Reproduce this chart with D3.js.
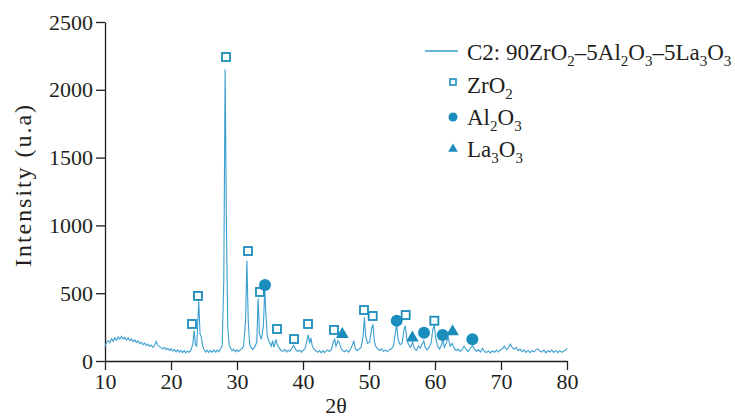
<!DOCTYPE html>
<html><head><meta charset="utf-8">
<script src="https://cdn.jsdelivr.net/npm/d3@7"></script>
<style>
html,body{margin:0;padding:0;background:#fff;}
svg{display:block;font-family:"Liberation Serif","DejaVu Serif",serif;}
</style></head>
<body><svg id="c" width="735" height="419"></svg>
<script>
// XRD pattern: 2θ and intensity (u.a)
const twoTheta = [10.0,10.25,10.5,10.75,11.0,11.25,11.5,11.75,12.0,12.25,12.5,12.75,13.0,13.25,13.5,13.75,14.0,14.25,14.5,14.75,15.0,15.25,15.5,15.75,16.0,16.25,16.5,16.75,17.0,17.25,17.5,17.75,18.0,18.25,18.5,18.75,19.0,19.25,19.5,19.75,20.0,20.25,20.5,20.75,21.0,21.25,21.5,21.75,22.0,22.25,22.5,22.75,23.0,23.3,23.5,23.7,23.9,24.2,24.4,24.6,24.8,25.0,25.25,25.5,25.75,26.0,26.25,26.5,26.75,27.0,27.25,27.5,27.75,28.0,28.2,28.4,28.6,28.8,29.0,29.25,29.5,29.75,30.0,30.25,30.5,30.75,31.0,31.3,31.5,31.7,31.9,32.1,32.4,32.7,33.0,33.2,33.4,33.7,34.0,34.2,34.4,34.6,34.9,35.2,35.4,35.6,35.9,36.1,36.4,36.7,37.0,37.25,37.5,37.75,38.0,38.3,38.6,38.9,39.2,39.5,39.75,40.0,40.3,40.6,40.8,41.0,41.2,41.4,41.7,42.0,42.25,42.5,42.75,43.0,43.25,43.5,43.75,44.0,44.3,44.6,44.8,45.0,45.3,45.5,45.8,46.0,46.3,46.6,46.9,47.2,47.5,47.7,47.9,48.2,48.5,48.8,49.1,49.3,49.5,49.8,50.1,50.4,50.6,50.8,51.0,51.3,51.6,51.9,52.2,52.5,52.8,53.1,53.4,53.7,54.0,54.2,54.4,54.7,55.0,55.3,55.5,55.7,56.0,56.3,56.6,56.9,57.2,57.5,57.8,58.0,58.3,58.5,58.8,59.1,59.4,59.7,59.9,60.1,60.4,60.7,61.0,61.2,61.4,61.7,62.0,62.3,62.6,62.9,63.2,63.5,63.8,64.1,64.4,64.7,65.0,65.3,65.7,66.0,66.3,66.6,66.9,67.2,67.5,67.8,68.1,68.4,68.7,69.0,69.3,69.6,69.9,70.2,70.5,70.8,71.1,71.4,71.7,72.0,72.3,72.6,72.9,73.2,73.5,73.8,74.1,74.4,74.7,75.0,75.3,75.6,75.9,76.2,76.5,76.8,77.1,77.4,77.7,78.0,78.3,78.6,78.9,79.2,79.5,79.8,80.0];
const intensity = [110,140,150,135,165,145,172,152,178,160,182,162,175,155,170,150,163,143,155,136,148,128,140,120,132,114,125,108,118,100,112,145,118,104,100,90,100,84,94,78,90,74,84,68,82,66,78,62,76,60,74,64,80,120,225,120,110,440,200,175,110,85,66,80,62,78,64,82,66,80,68,88,110,600,2150,1000,250,120,95,76,88,68,82,70,84,90,110,300,740,300,130,100,86,104,140,460,200,160,260,520,330,180,140,110,150,100,160,120,95,76,72,86,66,80,70,92,115,85,70,80,64,78,90,150,195,130,170,110,85,74,64,76,60,76,62,74,82,68,85,140,160,110,150,135,90,78,68,80,66,88,120,150,95,76,88,100,180,320,180,130,140,240,270,150,110,92,78,90,70,82,68,84,90,110,210,270,160,120,130,230,260,170,120,100,140,90,78,110,95,120,150,100,82,100,130,240,260,170,110,88,120,160,100,130,175,110,130,95,78,88,72,82,110,85,70,92,115,85,72,84,66,94,70,62,76,60,74,64,80,66,82,90,110,85,95,125,100,86,100,76,88,68,82,64,78,62,76,68,84,90,72,66,80,60,76,66,82,64,78,62,76,64,74,80,95];

// Phase markers (2θ, intensity)
const zro2X = [23.18,24.09,28.33,31.67,33.48,36.06,38.64,40.76,44.70,49.24,50.56,55.56,59.90];
const zro2Y = [273,480,2242,811,509,236,162,273,229,376,332,339,297];
const al2o3X = [34.24,54.20,58.33,61.16,65.66];
const al2o3Y = [560,297,209,192,160];
const la3o3X = [45.96,56.57,62.66];
const la3o3Y = [204,179,224];

const xTicks = [10,20,30,40,50,60,70,80];
const yTicks = [0,500,1000,1500,2000,2500];

const lineColor = "#3a9fd0", markColor = "#1b8dbd", axisColor = "#231f20";
const svg = d3.select("#c");
const x = d3.scaleLinear().domain([10,80]).range([105,567]);
const y = d3.scaleLinear().domain([0,2500]).range([361,22]);

// axes
const gx = svg.append("g").attr("transform","translate(0,361)")
  .call(d3.axisBottom(x).tickValues(xTicks).tickFormat(d3.format("d")).tickSize(9).tickSizeOuter(0).tickPadding(3));
const gy = svg.append("g").attr("transform","translate(105,0)")
  .call(d3.axisLeft(y).tickValues(yTicks).tickFormat(d3.format("d")).tickSize(9).tickSizeOuter(0).tickPadding(3));
[gx,gy].forEach(g=>{
  g.selectAll("path,line").attr("stroke",axisColor).attr("stroke-width",1.3);
  g.selectAll("text").attr("fill",axisColor).style("font-family","'Liberation Serif',serif").style("font-size","22px");
});

// curve
const pts = twoTheta.map((t,i)=>[t,intensity[i]]);
svg.append("path").datum(pts)
  .attr("fill","none").attr("stroke",lineColor).attr("stroke-width",1.1)
  .attr("d", d3.line().x(d=>x(d[0])).y(d=>y(d[1])));

// markers
const gm = svg.append("g");
zro2X.forEach((t,i)=>{
  gm.append("rect").attr("x",x(t)-4).attr("y",y(zro2Y[i])-4).attr("width",8).attr("height",8)
    .attr("fill","#fff").attr("stroke",markColor).attr("stroke-width",1.8);
});
al2o3X.forEach((t,i)=>{
  gm.append("circle").attr("cx",x(t)).attr("cy",y(al2o3Y[i])).attr("r",6).attr("fill",markColor);
});
la3o3X.forEach((t,i)=>{
  gm.append("path").attr("d",d3.symbol(d3.symbolTriangle,70)())
    .attr("transform",`translate(${x(t)},${y(la3o3Y[i])+1})`).attr("fill",markColor);
});

// axis titles
svg.append("text").attr("transform","translate(31,186) rotate(-90)").attr("text-anchor","middle")
  .attr("textLength",162).attr("lengthAdjust","spacing")
  .style("font-size","24px").attr("fill",axisColor).text("Intensity (u.a)");
svg.append("text").attr("x",336).attr("y",413).attr("text-anchor","middle")
  .style("font-size","22px").attr("fill",axisColor).text("2θ");

// legend
function richText(xp, yp, parts){
  const t = svg.append("text").attr("x",xp).attr("y",yp).attr("fill",axisColor).style("font-size","23px");
  let shift = 0;
  parts.forEach(p=>{
    const sub = p[1];
    const dy = sub ? 6 - shift : -shift;
    shift = sub ? 6 : 0;
    t.append("tspan").attr("dy",dy).style("font-size", sub ? "15px" : "23px").text(p[0]);
  });
  return t;
}
svg.append("line").attr("x1",425).attr("x2",458).attr("y1",51).attr("y2",51).attr("stroke",lineColor).attr("stroke-width",1.3);
richText(467,60,[["C2: 90ZrO",0],["2",1],["–5Al",0],["2",1],["O",0],["3",1],["–5La",0],["3",1],["O",0],["3",1]]);
svg.append("rect").attr("x",450).attr("y",79).attr("width",6).attr("height",6).attr("fill","#fff").attr("stroke",markColor).attr("stroke-width",1.6);
richText(467,93,[["ZrO",0],["2",1]]);
svg.append("circle").attr("cx",453).attr("cy",117).attr("r",4.5).attr("fill",markColor);
richText(467,125,[["Al",0],["2",1],["O",0],["3",1]]);
svg.append("path").attr("d",d3.symbol(d3.symbolTriangle,40)()).attr("transform","translate(453,149)").attr("fill",markColor);
richText(467,157,[["La",0],["3",1],["O",0],["3",1]]);
</script></body></html>
